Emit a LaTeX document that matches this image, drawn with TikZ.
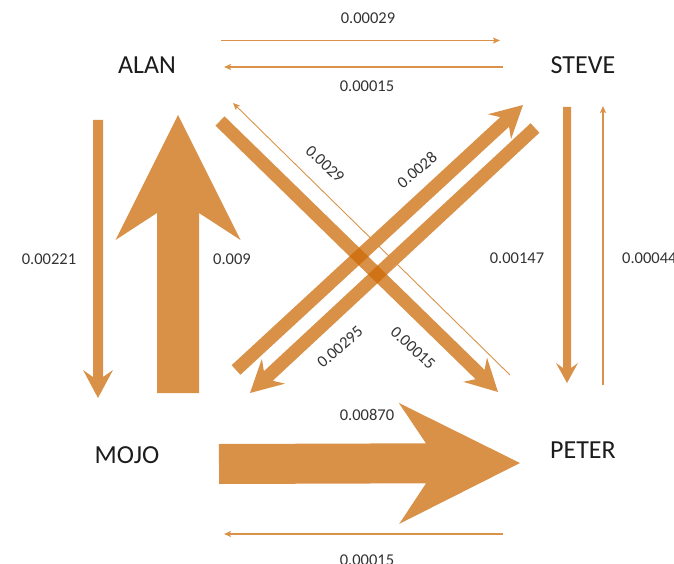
\documentclass[tikz,border=0pt]{standalone}
\usepackage{fontspec}
\setmainfont{Carlito}
\usetikzlibrary{calc,arrows.meta}

\definecolor{flow}{RGB}{203,104,3}
\definecolor{flowlight}{RGB}{217,146,72}
\definecolor{ink}{RGB}{28,28,28}

\tikzset{
  band/.style={fill=flow, fill opacity=0.73},
  thinflow/.style={draw=flowlight, line width=1.4pt,
    -{Stealth[length=7pt,width=6pt,inset=1.5pt]}},
  hairflow/.style={thinflow, line width=0.9pt},
  person/.style={text=ink, inner sep=0pt, font=\fontsize{26}{30}\selectfont},
  rate/.style={text=ink!90, inner sep=0pt, font=\fontsize{16.5}{19}\selectfont},
}

% block arrow: from, to, half shaft width, half head width,
% distance tip->shaft junction, distance tip->wing tips
\newcommand\blockarrow[6]{%
  \fill[band] ($(#1)!#3!90:(#2)$)
    -- ($(#2)!#5!(#1)!#3!-90:(#1)$)
    -- ($(#2)!#6!(#1)!#4!-90:(#1)$)
    -- (#2)
    -- ($(#2)!#6!(#1)!#4!90:(#1)$)
    -- ($(#2)!#5!(#1)!#3!90:(#1)$)
    -- ($(#1)!#3!-90:(#2)$) -- cycle;}

\begin{document}
\begin{tikzpicture}[x=1pt,y=-1pt]
  \useasboundingbox (0,0) rectangle (674,564);

  % people
  \node[person] (alan)  at (147,65)  {ALAN};
  \node[person] (steve) at (583,65)  {STEVE};
  \node[person] (mojo)  at (127,455) {MOJO};
  \node[person] (peter) at (583,450) {PETER};

  % end points of the flows
  \coordinate (amA) at (98,120);   \coordinate (amB) at (98,398);
  \coordinate (maA) at (178,393);  \coordinate (maB) at (178,115);
  \coordinate (spA) at (567,107);  \coordinate (spB) at (567,383);
  \coordinate (mpA) at (219,464);  \coordinate (mpB) at (520,463);
  \coordinate (msA) at (236,370);  \coordinate (msB) at (523,105);
  \coordinate (apA) at (220,121);  \coordinate (apB) at (498,392);
  \coordinate (smA) at (535,128);  \coordinate (smB) at (250,393);
  \coordinate (asA) at (221,40.5); \coordinate (asB) at (500,40.5);
  \coordinate (saA) at (503,67);   \coordinate (saB) at (224,67);
  \coordinate (paA) at (510,375);  \coordinate (paB) at (233,103);
  \coordinate (psA) at (603,385);  \coordinate (psB) at (603,106);
  \coordinate (pmA) at (503,534);  \coordinate (pmB) at (224,534);

  % wide flows
  \blockarrow{maA}{maB}{21pt}{62.5pt}{98pt}{125pt}
  \blockarrow{mpA}{mpB}{20pt}{60.5pt}{94pt}{121pt}
  \blockarrow{amA}{amB}{5pt}{15pt}{21pt}{28pt}
  \blockarrow{spA}{spB}{4pt}{11pt}{15pt}{20pt}
  \blockarrow{msA}{msB}{6.5pt}{17pt}{25pt}{32pt}
  \blockarrow{apA}{apB}{6.5pt}{17pt}{25pt}{32pt}
  \blockarrow{smA}{smB}{6.5pt}{17pt}{25pt}{32pt}

  % narrow flows
  \draw[thinflow] (asA) -- (asB);
  \draw[thinflow] (saA) -- (saB);
  \draw[hairflow] (paA) -- (paB);
  \draw[thinflow] (psA) -- (psB);
  \draw[thinflow] (pmA) -- (pmB);

  % rates
  \node[rate] (r1)  at (368,18)  {0.00029};
  \node[rate] (r2)  at (367,86)  {0.00015};
  \node[rate, rotate=-43] (r3) at (325,164) {0.0029};
  \node[rate, rotate=40]  (r4) at (417,170) {0.0028};
  \node[rate, rotate=41]  (r5) at (340,347) {0.00295};
  \node[rate, rotate=-43] (r6) at (413,348) {0.00015};
  \node[rate] (r7)  at (49,259)  {0.00221};
  \node[rate] (r8)  at (232,259) {0.009};
  \node[rate] (r9)  at (517,258) {0.00147};
  \node[rate, anchor=west] (r10) at (622,258) {0.00044};
  \node[rate] (r11) at (367,415) {0.00870};
  \node[rate] (r12) at (367,560) {0.00015};
\end{tikzpicture}
\end{document}
